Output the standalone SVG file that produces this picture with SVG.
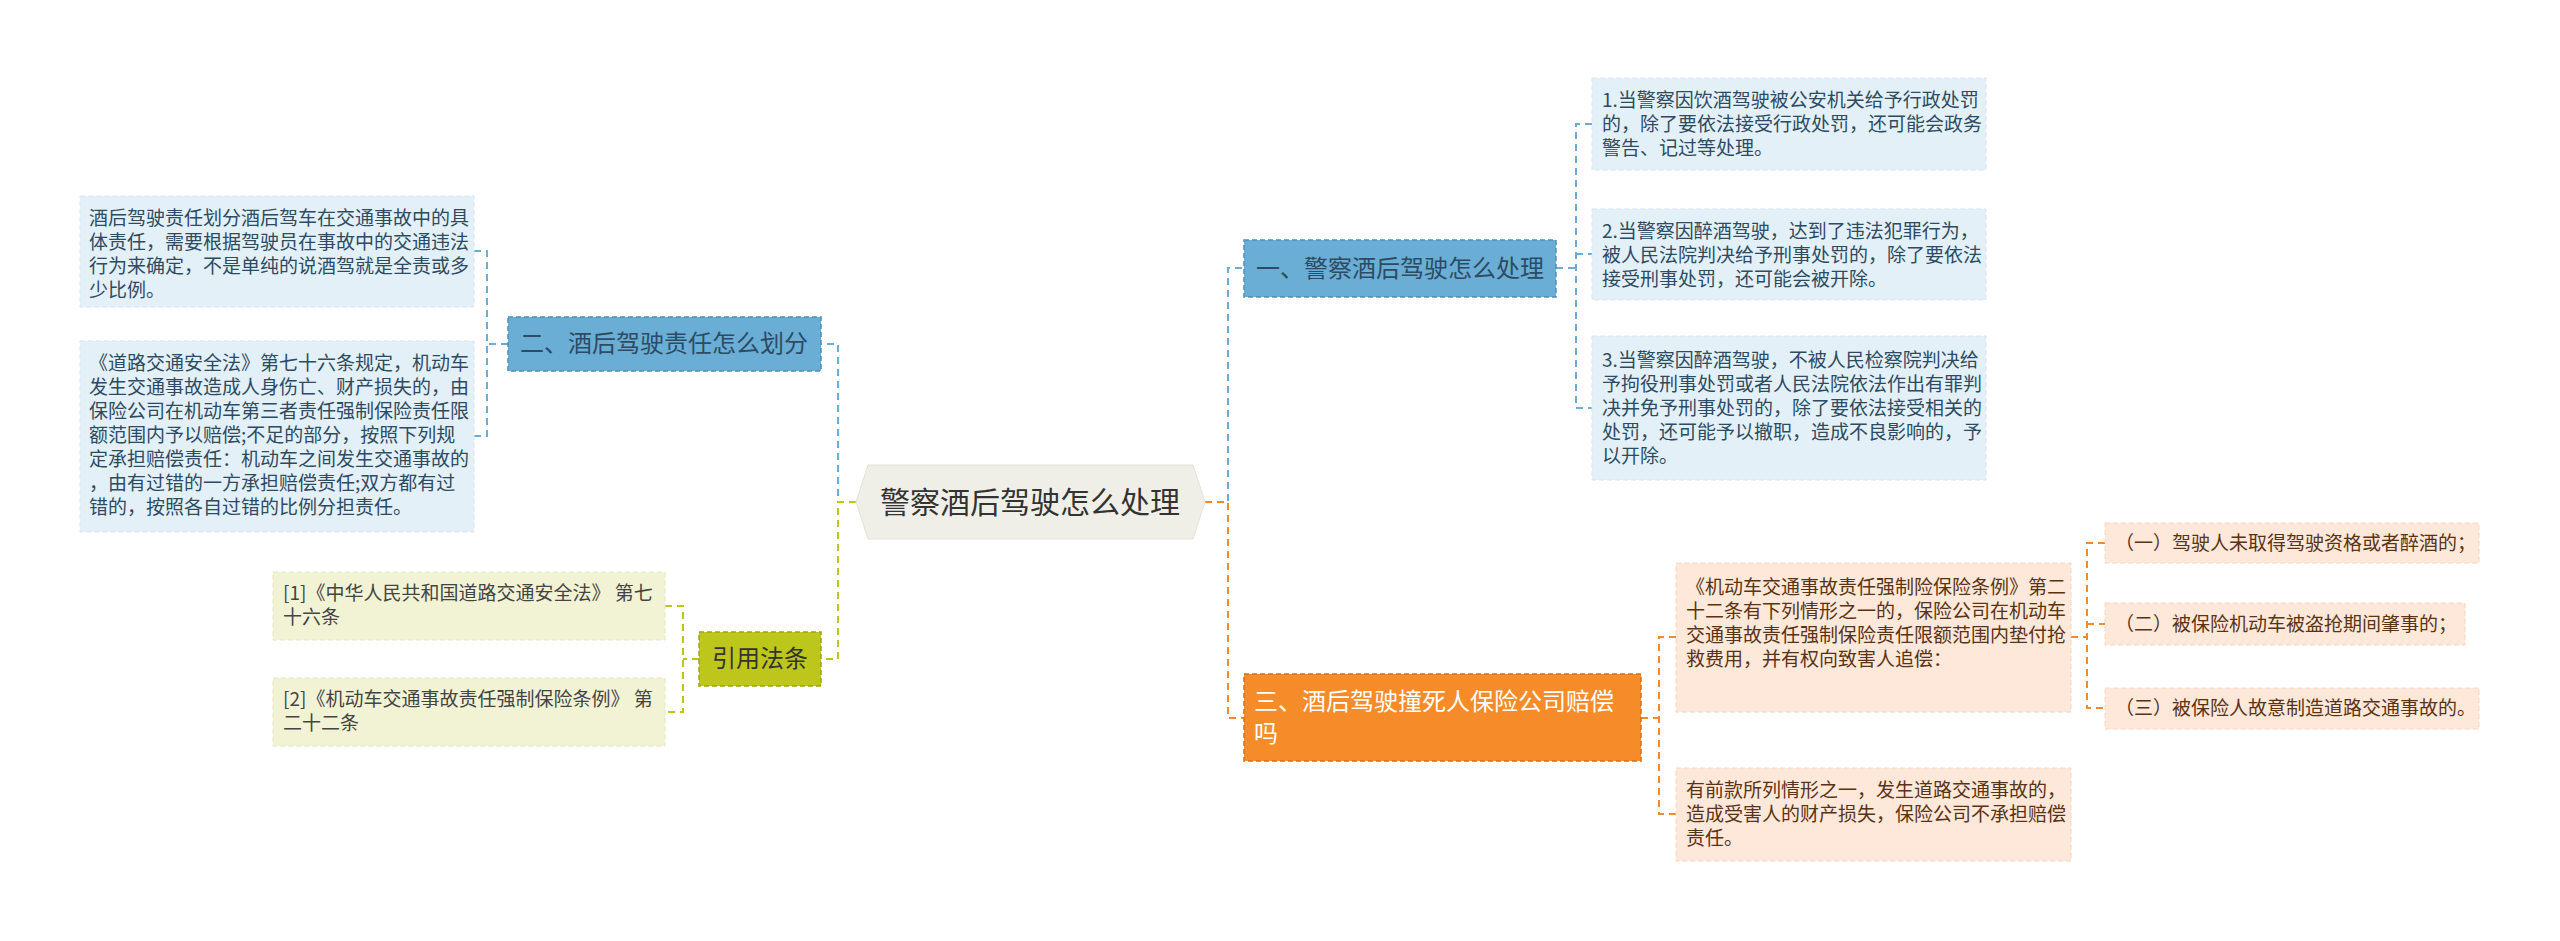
<svg xmlns="http://www.w3.org/2000/svg" width="2560" height="941" viewBox="0 0 2560 941">
<style>
text{font-family:"Noto Sans CJK SC","Noto Sans",sans-serif}
.lf{font-size:19px}
.bn{fill:#6aaed6;stroke:#4d8fba;stroke-width:1.5;stroke-dasharray:5 3}
.bl{fill:#e3f0f8;stroke:#d6e6f2;stroke-dasharray:5 3}
.on{fill:#f68b2a;stroke:#d4701a;stroke-width:1.5;stroke-dasharray:5 3}
.ol{fill:#fde8d9;stroke:#f6d6c0;stroke-dasharray:5 3}
.yn{fill:#bdc71b;stroke:#9aa314;stroke-width:1.5;stroke-dasharray:5 3}
.yl{fill:#f2f3d5;stroke:#e6e8bd;stroke-dasharray:5 3}
.bt{fill:#2d4b62}.ot{fill:#5a3314}.yt{fill:#444}
.c{fill:none;stroke-width:2;stroke-dasharray:7 5}
.cb{stroke:#6aaed6}.co{stroke:#f08a2e}.cy{stroke:#bcc41d}
</style>
<rect width="2560" height="941" fill="#fff"/>
<g id="connectors">
<path class="c cb" d="M856 502 H838 V344 H821"/>
<path class="c cy" d="M856 502 H838 V659 H821"/>
<path class="c cb" d="M1205 502 H1228 V268 H1244"/>
<path class="c co" d="M1205 502 H1228 V718 H1244"/>
<path class="c cb" d="M1556 268 H1576 M1592 124 H1576 V408 H1592 M1576 254 H1592"/>
<path class="c cb" d="M508 344 H487 M474 251 H487 V436 H474"/>
<path class="c cy" d="M699 659 H683 M665 606 H683 V712 H665"/>
<path class="c co" d="M1641 718 H1659 M1676 637 H1659 V814 H1676"/>
<path class="c co" d="M2071 637 H2087 M2105 543 H2087 V708 H2105 M2087 624 H2105"/>
</g>
<g id="center">
<polygon points="856,502 868,465 1193,465 1205,502 1193,539 868,539" fill="#efefe7" stroke="#e2e2d8"/>
<text x="1030" y="513" font-size="30" text-anchor="middle" fill="#333">警察酒后驾驶怎么处理</text>
</g>
<g id="n1">
<rect class="bn" x="1244" y="240" width="312" height="57"/>
<text x="1400" y="277" font-size="24" text-anchor="middle" class="bt">一、警察酒后驾驶怎么处理</text>
</g>
<g id="n1a"><rect class="bl" x="1592" y="78" width="394" height="92"/>
<text class="lf bt" x="1602" y="107">1.当警察因饮酒驾驶被公安机关给予行政处罚<tspan x="1602" dy="24">的，除了要依法接受行政处罚，还可能会政务</tspan><tspan x="1602" dy="24">警告、记过等处理。</tspan></text></g>
<g id="n1b"><rect class="bl" x="1592" y="209" width="394" height="91"/>
<text class="lf bt" x="1602" y="238">2.当警察因醉酒驾驶，达到了违法犯罪行为，<tspan x="1602" dy="24">被人民法院判决给予刑事处罚的，除了要依法</tspan><tspan x="1602" dy="24">接受刑事处罚，还可能会被开除。</tspan></text></g>
<g id="n1c"><rect class="bl" x="1592" y="336" width="394" height="144"/>
<text class="lf bt" x="1602" y="367">3.当警察因醉酒驾驶，不被人民检察院判决给<tspan x="1602" dy="24">予拘役刑事处罚或者人民法院依法作出有罪判</tspan><tspan x="1602" dy="24">决并免予刑事处罚的，除了要依法接受相关的</tspan><tspan x="1602" dy="24">处罚，还可能予以撤职，造成不良影响的，予</tspan><tspan x="1602" dy="24">以开除。</tspan></text></g>
<g id="n3">
<rect class="on" x="1244" y="674" width="397" height="87"/>
<text x="1254" y="710" font-size="24" fill="#fff">三、酒后驾驶撞死人保险公司赔偿<tspan x="1254" dy="32">吗</tspan></text>
</g>
<g id="n3a"><rect class="ol" x="1676" y="563" width="395" height="149"/>
<text class="lf ot" x="1686" y="594">《机动车交通事故责任强制险保险条例》第二<tspan x="1686" dy="24">十二条有下列情形之一的，保险公司在机动车</tspan><tspan x="1686" dy="24">交通事故责任强制保险责任限额范围内垫付抢</tspan><tspan x="1686" dy="24">救费用，并有权向致害人追偿：</tspan></text></g>
<g id="n3b"><rect class="ol" x="1676" y="768" width="395" height="93"/>
<text class="lf ot" x="1686" y="797">有前款所列情形之一，发生道路交通事故的，<tspan x="1686" dy="24">造成受害人的财产损失，保险公司不承担赔偿</tspan><tspan x="1686" dy="24">责任。</tspan></text></g>
<g id="s1"><rect class="ol" x="2105" y="523" width="374" height="40"/>
<text class="lf ot" x="2115" y="550">（一）驾驶人未取得驾驶资格或者醉酒的；</text></g>
<g id="s2"><rect class="ol" x="2105" y="603" width="360" height="42"/>
<text class="lf ot" x="2115" y="631">（二）被保险机动车被盗抢期间肇事的；</text></g>
<g id="s3"><rect class="ol" x="2105" y="688" width="374" height="41"/>
<text class="lf ot" x="2115" y="715">（三）被保险人故意制造道路交通事故的。</text></g>
<g id="n2">
<rect class="bn" x="508" y="317" width="313" height="54"/>
<text x="664" y="352" font-size="24" text-anchor="middle" class="bt">二、酒后驾驶责任怎么划分</text>
</g>
<g id="n2a"><rect class="bl" x="80" y="196" width="394" height="111"/>
<text class="lf bt" x="89" y="225">酒后驾驶责任划分酒后驾车在交通事故中的具<tspan x="89" dy="24">体责任，需要根据驾驶员在事故中的交通违法</tspan><tspan x="89" dy="24">行为来确定，不是单纯的说酒驾就是全责或多</tspan><tspan x="89" dy="24">少比例。</tspan></text></g>
<g id="n2b"><rect class="bl" x="80" y="341" width="394" height="191"/>
<text class="lf bt" x="89" y="370">《道路交通安全法》第七十六条规定，机动车<tspan x="89" dy="24">发生交通事故造成人身伤亡、财产损失的，由</tspan><tspan x="89" dy="24">保险公司在机动车第三者责任强制保险责任限</tspan><tspan x="89" dy="24">额范围内予以赔偿;不足的部分，按照下列规</tspan><tspan x="89" dy="24">定承担赔偿责任：机动车之间发生交通事故的</tspan><tspan x="89" dy="24">，由有过错的一方承担赔偿责任;双方都有过</tspan><tspan x="89" dy="24">错的，按照各自过错的比例分担责任。</tspan></text></g>
<g id="n4">
<rect class="yn" x="699" y="632" width="122" height="54"/>
<text x="760" y="667" font-size="24" text-anchor="middle" fill="#333">引用法条</text>
</g>
<g id="n4a"><rect class="yl" x="273" y="572" width="392" height="68"/>
<text class="lf yt" x="283" y="600">[1]《中华人民共和国道路交通安全法》 第七<tspan x="283" dy="24">十六条</tspan></text></g>
<g id="n4b"><rect class="yl" x="273" y="678" width="392" height="68"/>
<text class="lf yt" x="283" y="706">[2]《机动车交通事故责任强制保险条例》 第<tspan x="283" dy="24">二十二条</tspan></text></g>
</svg>
